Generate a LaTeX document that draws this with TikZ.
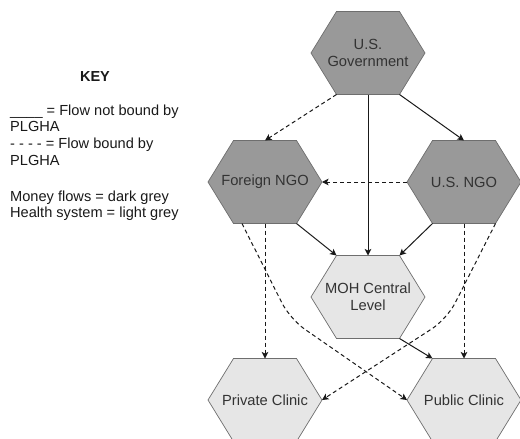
\documentclass[tikz,border=0pt]{standalone}
\usepackage{fontspec}
\setmainfont{Liberation Sans}
\usetikzlibrary{arrows.meta,calc}
\definecolor{dkg}{HTML}{999999}
\definecolor{ltg}{HTML}{E6E6E6}
\definecolor{edge}{HTML}{6E6E6E}
\definecolor{txt}{HTML}{333333}
\begin{document}
\begin{tikzpicture}[x=1pt,y=-1pt,
  hexlabel/.style={inner sep=0pt, align=center, text=txt,
    font=\fontsize{14.7pt}{16.6pt}\selectfont},
  keytext/.style={anchor=base west, inner sep=0pt, text=black!90,
    font=\fontsize{14.6pt}{16.6pt}\selectfont},
  tip/.style={-{Stealth[length=6.5pt,width=6.5pt,inset=1.5pt]}},
  solidflow/.style={tip, line width=1pt, draw=black!90},
  dashflow/.style={tip, line width=1pt, draw=black!90, dash pattern=on 4pt off 3pt},
  hexpath/.style={draw=edge, line width=0.7pt}]
\useasboundingbox (0,0) rectangle (520,439);

\foreach \n/\x/\y/\f/\t in {gov/368/53/dkg/{U.S.\\Government},
    fngo/265/182/dkg/{Foreign NGO},
    ungo/464/182/dkg/{U.S. NGO},
    moh/368/297/ltg/{MOH Central\\Level},
    priv/265/400/ltg/{Private Clinic},
    pub/464/400/ltg/{Public Clinic}} {
  \path[hexpath, fill=\f] ({\x-57},\y) -- ({\x-31.5},{\y-41.5}) -- ({\x+31.5},{\y-41.5})
     -- ({\x+57},\y) -- ({\x+31.5},{\y+41.5}) -- ({\x-31.5},{\y+41.5}) -- cycle;
  \node[hexlabel] (\n) at (\x,\y) {\t};
  \coordinate (\n-w) at ({\x-57},\y);
  \coordinate (\n-e) at ({\x+57},\y);
  \coordinate (\n-n) at (\x,{\y-41.5});
  \coordinate (\n-s) at (\x,{\y+41.5});
  \coordinate (\n-nw) at ({\x-31.5},{\y-41.5});
  \coordinate (\n-ne) at ({\x+31.5},{\y-41.5});
  \coordinate (\n-sw) at ({\x-31.5},{\y+41.5});
  \coordinate (\n-se) at ({\x+31.5},{\y+41.5});
}

% key
\node[keytext, anchor=base, font=\bfseries\fontsize{14.5pt}{16.6pt}\selectfont] (key) at (95,81.5) {KEY};
\node[keytext] (k1) at (10,115.5) {\_\_\_\_ = Flow not bound by};
\node[keytext] (k2) at (10,131.5) {PLGHA};
\node[keytext] (k3) at (10,148) {- - - - = Flow bound by};
\node[keytext] (k4) at (10,165) {PLGHA};
\node[keytext] (k5) at (10,201) {Money flows = dark grey};
\node[keytext] (k6) at (10,217) {Health system = light grey};

% connectors
\draw[dashflow] (gov-sw) -- (fngo-n);
\draw[solidflow] (gov-se) -- (ungo-n);
\draw[solidflow] (gov-s) -- (moh-n);
\draw[dashflow] (ungo-w) -- (fngo-e);
\draw[solidflow] (fngo-se) -- (moh-nw);
\draw[solidflow] (ungo-sw) -- (moh-ne);
\draw[dashflow] (fngo-s) -- (priv-n);
\draw[dashflow] (ungo-s) -- (pub-n);
\draw[solidflow] (moh-se) -- (pub-nw);
\coordinate (bendL) at (290,319);
\coordinate (bendR) at (447,319);
\draw[dashflow, rounded corners=18pt] ($(fngo-s)+(-23,0)$) -- (bendL) -- (pub-w);
\draw[dashflow, rounded corners=18pt] (ungo-se) -- (bendR) -- (priv-e);
\end{tikzpicture}
\end{document}
